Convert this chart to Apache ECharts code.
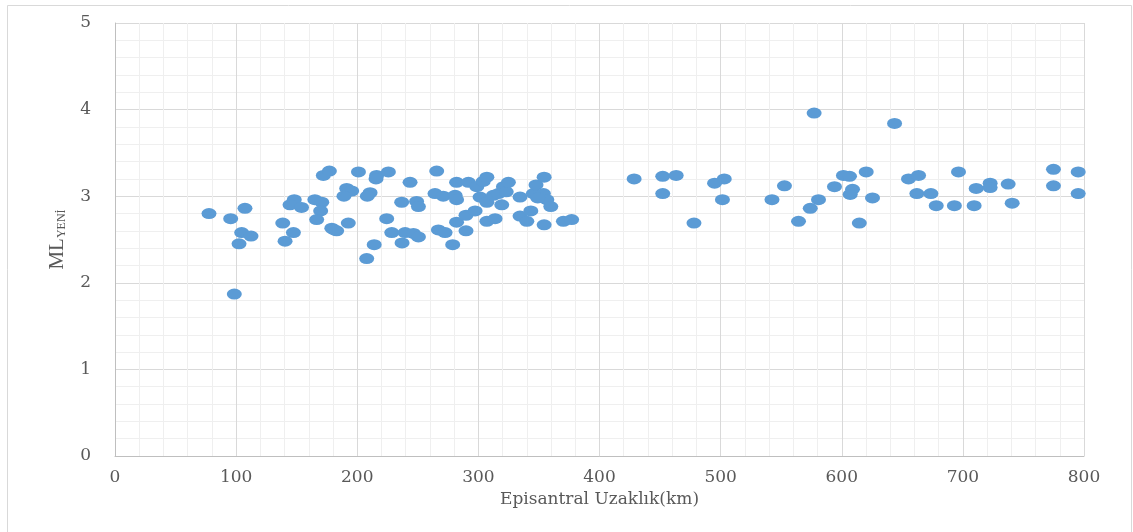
<!DOCTYPE html>
<html>
<head>
<meta charset="utf-8">
<script src="https://cdn.jsdelivr.net/npm/echarts@6/dist/echarts.min.js"></script>
<style>
html,body{margin:0;padding:0;background:#fff;}
#chart{width:1133px;height:532px;}
</style>
</head>
<body>
<div id="chart"></div>
<script>
// Epicentral distance (km)
const distanceKm = [
  77.6, 95.5, 107.3, 104.6, 112.3, 102.4, 98.5, 138.5, 147.3, 140.4,
  148, 144.5, 154, 165, 170.7, 169.8, 166.5, 172, 177, 179,
  183, 181, 192.6, 191.3, 195.4, 189, 201, 210.6, 208.3, 216,
  215.5, 207.8, 214, 225.7, 224.3, 228.5, 236.7, 239.5, 237, 246.4,
  250.5, 249, 250.5, 243.6, 265.6, 264.2, 271, 267, 272.5, 278.8,
  280.8, 282, 282, 282, 289.8, 289.8, 291.8, 297.3, 298.7, 301.4,
  304, 307, 307, 307, 312.4, 313.8, 316.5, 319.3, 320.7, 323,
  324.8, 334.4, 334.4, 340, 343.3, 345.4, 347.6, 353.7, 354.3, 354.3,
  356.5, 359.8, 370.2, 377, 349,
  428.6, 452.2, 463.3, 452.2, 478, 495, 503, 501.5, 542.4, 552.7,
  577.2, 564.3, 574, 580.8, 594, 601.4, 606.4, 608.9, 607, 614.5,
  620.2, 625.4, 643.6, 655.1, 663.4, 662, 673.6, 678, 693, 696.4,
  709.3, 711, 722.5, 722.5, 737.4, 740.7, 774.8, 774.8, 795.2, 795.2
];
// ML (YENİ) magnitude
const magnitudeML = [
  2.80, 2.74, 2.86, 2.58, 2.54, 2.45, 1.87, 2.69, 2.58, 2.48,
  2.96, 2.90, 2.87, 2.96, 2.93, 2.83, 2.73, 3.24, 3.29, 2.63,
  2.60, 2.61, 2.69, 3.09, 3.06, 3.00, 3.28, 3.04, 3.00, 3.24,
  3.20, 2.28, 2.44, 3.28, 2.74, 2.58, 2.93, 2.58, 2.46, 2.57,
  2.53, 2.94, 2.88, 3.16, 3.29, 3.03, 3.00, 2.61, 2.58, 2.44,
  3.01, 2.96, 3.16, 2.70, 2.78, 2.60, 3.16, 2.83, 3.11, 2.99,
  3.17, 3.22, 2.93, 2.71, 3.01, 2.74, 3.03, 2.90, 3.11, 3.05,
  3.16, 2.99, 2.77, 2.71, 2.83, 3.03, 3.13, 3.03, 3.22, 2.67,
  2.96, 2.88, 2.71, 2.73, 2.98,
  3.20, 3.23, 3.24, 3.03, 2.69, 3.15, 3.20, 2.96, 2.96, 3.12,
  3.96, 2.71, 2.86, 2.96, 3.11, 3.24, 3.23, 3.08, 3.02, 2.69,
  3.28, 2.98, 3.84, 3.20, 3.24, 3.03, 3.03, 2.89, 2.89, 3.28,
  2.89, 3.09, 3.15, 3.10, 3.14, 2.92, 3.31, 3.12, 3.28, 3.03
];
const xAxisTitle = 'Episantral Uzaklık(km)';
const yAxisMain = 'ML';
const yAxisSub = 'YENİ';

const points = distanceKm.map((d, i) => [d, magnitudeML[i]]);

const chart = echarts.init(document.getElementById('chart'), null, {renderer: 'canvas'});
const labelFont = '"DejaVu Serif", "Liberation Serif", serif';
chart.setOption({
  animation: false,
  backgroundColor: '#ffffff',
  graphic: [{
    type: 'rect',
    shape: {x: 7.5, y: 5.5, width: 1124, height: 560},
    style: {fill: 'none', stroke: '#d9d9d9', lineWidth: 1},
    silent: true
  }],
  grid: {left: 115, right: 49, top: 23, bottom: 76, show: false},
  xAxis: {
    type: 'value', min: 0, max: 800, interval: 100,
    name: xAxisTitle, nameLocation: 'middle', nameGap: 35,
    nameTextStyle: {fontFamily: labelFont, fontSize: 17, color: '#595959'},
    axisLine: {show: true, lineStyle: {color: '#bfbfbf', width: 1}},
    axisTick: {show: false},
    axisLabel: {fontFamily: labelFont, fontSize: 17, color: '#595959', margin: 13},
    splitLine: {show: true, lineStyle: {color: '#d9d9d9', width: 1}},
    minorTick: {show: false, splitNumber: 5},
    minorSplitLine: {show: true, lineStyle: {color: '#efefef', width: 1}}
  },
  yAxis: {
    type: 'value', min: 0, max: 5, interval: 1,
    name: '{a|' + yAxisMain + '}{b|' + yAxisSub + '}',
    nameLocation: 'middle', nameGap: 47, nameRotate: 90,
    nameTextStyle: {
      fontFamily: labelFont, color: '#595959',
      rich: {
        a: {fontFamily: '"Liberation Serif", serif', fontSize: 21, color: '#595959', verticalAlign: 'bottom'},
        b: {fontFamily: '"Liberation Serif", serif', fontSize: 12, color: '#595959', verticalAlign: 'bottom'}
      }
    },
    axisLine: {show: true, lineStyle: {color: '#bfbfbf', width: 1}},
    axisTick: {show: false},
    axisLabel: {fontFamily: labelFont, fontSize: 17, color: '#595959', margin: 24},
    splitLine: {show: true, lineStyle: {color: '#d9d9d9', width: 1}},
    minorTick: {show: false, splitNumber: 5},
    minorSplitLine: {show: true, lineStyle: {color: '#efefef', width: 1}}
  },
  series: [{
    type: 'scatter',
    data: points,
    symbol: 'circle',
    symbolSize: [15, 11],
    itemStyle: {color: '#5b9bd5', opacity: 1}
  }]
});
</script>
</body>
</html>
